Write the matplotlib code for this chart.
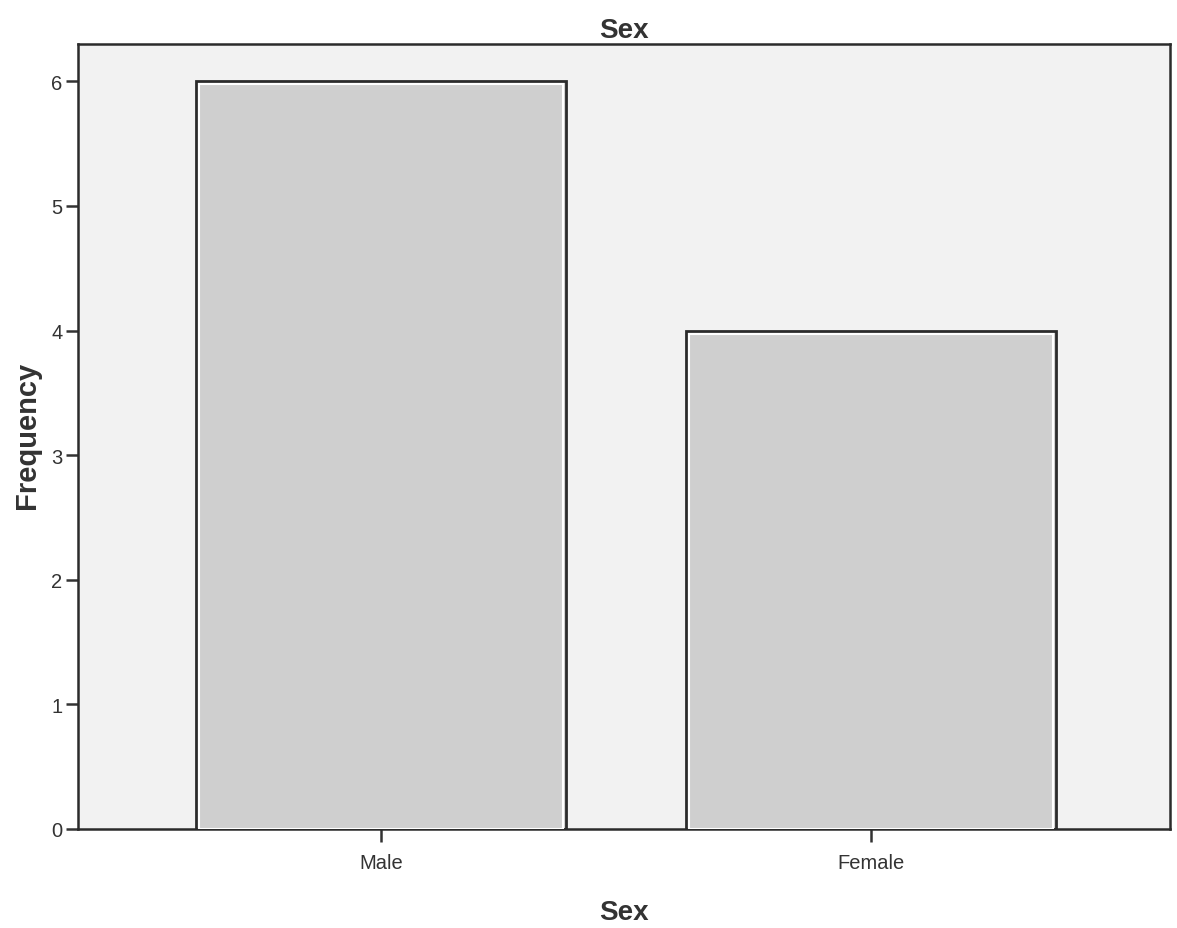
import matplotlib
matplotlib.use("Agg")
import matplotlib.pyplot as plt

categories = ["Male", "Female"]
frequencies = [6, 4]
y_ticks = [0, 1, 2, 3, 4, 5, 6]

plt.rcParams['font.family'] = ['Liberation Sans', 'DejaVu Sans']
text_color = "#333333"

fig = plt.figure(figsize=(11.77, 9.29), dpi=100)
fig.patch.set_facecolor("white")
ax = fig.add_axes([0.066, 0.1066, 0.928, 0.845])
ax.set_facecolor("#f2f2f2")

x = list(range(len(categories)))
# outer dark edge
ax.bar(x, frequencies, width=0.755, color="#cfcfcf", edgecolor="#2b2b2b", linewidth=2.0, zorder=2)
# inner white outline
inner_h = [f - 0.025 for f in frequencies]
ax.bar(x, inner_h, width=0.743, color="none", edgecolor="white", linewidth=1.5, zorder=3)

ax.set_xlim(-0.62, 1.61)
ax.set_ylim(0, 6.3)
ax.set_xticks(x)
ax.set_xticklabels(categories, fontsize=14.5, color=text_color)
ax.set_yticks(y_ticks)
ax.set_yticklabels([str(v) for v in y_ticks], fontsize=14.5, color=text_color)
ax.tick_params(axis='both', direction='out', length=9, width=1.8, color=text_color, pad=2)
ax.tick_params(axis='x', pad=8)

for s in ax.spines.values():
    s.set_color("#2b2b2b")
    s.set_linewidth(1.8)

ax.set_xlabel("Sex", fontsize=20, fontweight='bold', color=text_color, labelpad=20)
fig.text(27 / 1177, 1 - 435 / 929, "Frequency", fontsize=21, fontweight='bold', color=text_color,
         rotation=90, ha='center', va='center')
ax.set_title("Sex", fontsize=20, fontweight='bold', color=text_color, pad=5)

fig.savefig("out.png", dpi=100, facecolor="white")
